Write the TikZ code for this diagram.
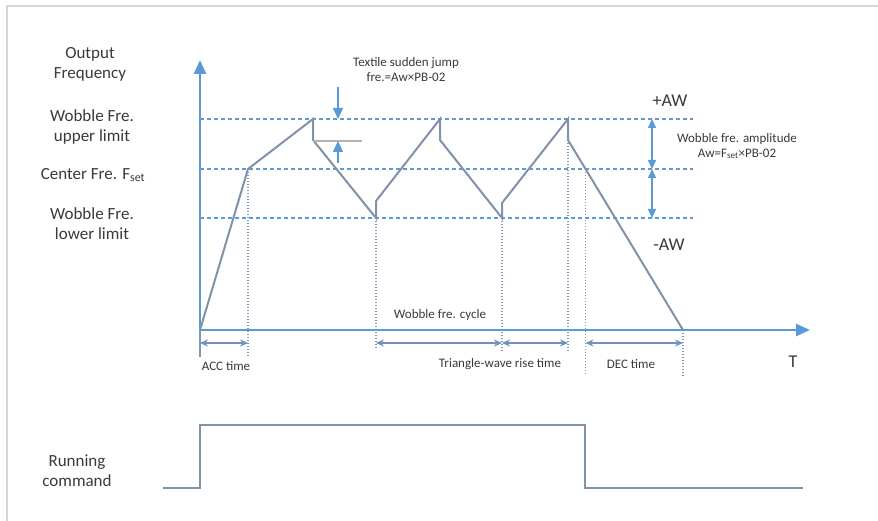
\documentclass[tikz,border=0pt]{standalone}
\usepackage{fontspec}
\setmainfont{Carlito}
\usetikzlibrary{arrows.meta}
\definecolor{axisblue}{HTML}{5B9BD5}
\definecolor{wavecol}{HTML}{8092A8}
\definecolor{guidecol}{HTML}{7D97B8}
\definecolor{dimcol}{HTML}{6E93C2}
\definecolor{txtcol}{HTML}{3A3A3A}
\definecolor{framecol}{HTML}{D6D6D6}
\tikzset{
  axisline/.style={axisblue, line width=2.6pt, -{Triangle[length=14pt,width=12pt]}},
  levelline/.style={axisblue, line width=1.8pt, dash pattern=on 4pt off 3pt},
  waveline/.style={wavecol, line width=2pt, line join=miter},
  guideline/.style={guidecol, line width=1.2pt, dash pattern=on 1.4pt off 1.6pt},
  dimarrow/.style={dimcol, line width=1.4pt, {Stealth[length=8pt,width=7pt]}-{Stealth[length=8pt,width=7pt]}},
  jumparrow/.style={axisblue, line width=1.4pt, -{Triangle[length=11pt,width=10pt]}},
  amparrow/.style={axisblue, line width=1.4pt, {Triangle[length=9pt,width=8pt]}-{Triangle[length=9pt,width=8pt]}},
  biglabel/.style={txtcol, font=\fontsize{17}{20}\selectfont, align=center, inner sep=0pt},
  smalllabel/.style={txtcol, font=\fontsize{13}{15}\selectfont, align=center, inner sep=0pt},
  awlabel/.style={txtcol, font=\fontsize{18}{20}\selectfont, inner sep=0pt},
  runline/.style={wavecol, line width=2pt},
}
\begin{document}
\begin{tikzpicture}[x=1pt,y=-1pt]
\useasboundingbox (0,0) rectangle (878,521);
\fill[white] (0,0) rectangle (878,521);
% frame
\coordinate (FL) at (7,521);
\coordinate (FC) at (7,6);
\coordinate (FR) at (878,6);
\draw[framecol, line width=2pt] (FL) -- (FC) -- (FR);

% key coordinates
\coordinate (O) at (200,330);
\coordinate (Ytop) at (200,60);
\coordinate (Ybot) at (200,357);
\coordinate (Xend) at (810,330);
\coordinate (A1) at (248,169);
\coordinate (P1) at (313,119);
\coordinate (P1d) at (313,140);
\coordinate (V1) at (376,218);
\coordinate (V1u) at (376,201);
\coordinate (P2) at (440,119);
\coordinate (P2d) at (440,140);
\coordinate (V2) at (502,218);
\coordinate (V2u) at (502,203);
\coordinate (P3) at (568,119);
\coordinate (P3d) at (568,140);
\coordinate (C3) at (585.5,169);
\coordinate (E) at (683,330);

% level lines
\coordinate (UL) at (200,119); \coordinate (UR) at (693,119);
\coordinate (CL) at (200,169); \coordinate (CR) at (693,169);
\coordinate (LL) at (200,218); \coordinate (LR) at (693,218);
\draw[levelline] (UL) -- (UR);
\draw[levelline] (CL) -- (CR);
\draw[levelline] (LL) -- (LR);

% guides
\coordinate (gA) at (248,357);
\coordinate (gV1) at (376,350);
\coordinate (gV2) at (502,352);
\coordinate (gP3) at (568,352);
\coordinate (gC3) at (585.5,376);
\coordinate (gE) at (683,376);
\draw[guideline] (A1) -- (gA);
\draw[guideline] (V1) -- (gV1);
\draw[guideline] (V2) -- (gV2);
\draw[guideline] (P3) -- (gP3);
\draw[guideline] (C3) -- (gC3);
\draw[guideline] (E) -- (gE);
\draw[guidecol, line width=1.4pt] (O) -- (Ybot);

% axes
\draw[axisline] (O) -- (Ytop);
\draw[axisline] (O) -- (Xend);

% wave
\draw[waveline] (O) -- (A1) -- (P1) -- (P1d) -- (V1) -- (V1u) -- (P2) -- (P2d) -- (V2) -- (V2u) -- (P3) -- (P3d) -- (E);

% jump indicator
\coordinate (J1) at (338,87);
\coordinate (J1e) at (338,119);
\coordinate (J2) at (338,163);
\coordinate (J2e) at (338,141);
\coordinate (Gs) at (313,141);
\coordinate (Ge) at (362,141);
\draw[gray!60, line width=1.1pt] (Gs) -- (Ge);
\draw[jumparrow] (J1) -- (J1e);
\draw[jumparrow] (J2) -- (J2e);

% amplitude arrows
\coordinate (M1) at (652,119);
\coordinate (M2) at (652,169);
\coordinate (M3) at (652,218);
\draw[amparrow] (M1) -- (M2);
\draw[amparrow] (M2) -- (M3);

% dimension arrows
\coordinate (dA1) at (200,343); \coordinate (dA2) at (248,343);
\coordinate (dW1) at (376,343); \coordinate (dW2) at (502,343);
\coordinate (dT1) at (502,343); \coordinate (dT2) at (568,343);
\coordinate (dD1) at (585.5,343); \coordinate (dD2) at (683,343);
\draw[dimarrow] (dA1) -- (dA2);
\draw[dimarrow] (dW1) -- (dW2);
\draw[dimarrow] (dT1) -- (dT2);
\draw[dimarrow] (dD1) -- (dD2);

% labels
\node[biglabel] (out) at (90,64) {Output\\Frequency};
\node[biglabel] (upl) at (92,127) {Wobble Fre.\\upper limit};
\node[biglabel] (cen) at (93,175) {Center Fre. F\textsubscript{set}};
\node[biglabel] (lol) at (92,224) {Wobble Fre.\\lower limit};
\node[smalllabel] (jump) at (406,70) {Textile sudden jump\\fre.=Aw×PB-02};
\node[smalllabel] (amp) at (737,146) {Wobble fre. amplitude\\Aw=F\textsubscript{set}×PB-02};
\node[awlabel] (paw) at (670,101) {+AW};
\node[awlabel] (maw) at (669,245) {-AW};
\node[smalllabel] (cyc) at (440,315) {Wobble fre. cycle};
\node[smalllabel] (acc) at (226,366) {ACC time};
\node[smalllabel] (tri) at (500,364) {Triangle-wave rise time};
\node[smalllabel] (dec) at (631,364) {DEC time};
\node[awlabel] (T) at (793,362) {T};
\node[biglabel] (run) at (77,471) {Running\\command};

% running command
\coordinate (R0) at (163,488);
\coordinate (R1) at (200,488);
\coordinate (R2) at (200,425);
\coordinate (R3) at (585,425);
\coordinate (R4) at (585,488);
\coordinate (R5) at (803,488);
\draw[runline] (R0) -- (R1) -- (R2) -- (R3) -- (R4) -- (R5);
\end{tikzpicture}
\end{document}
